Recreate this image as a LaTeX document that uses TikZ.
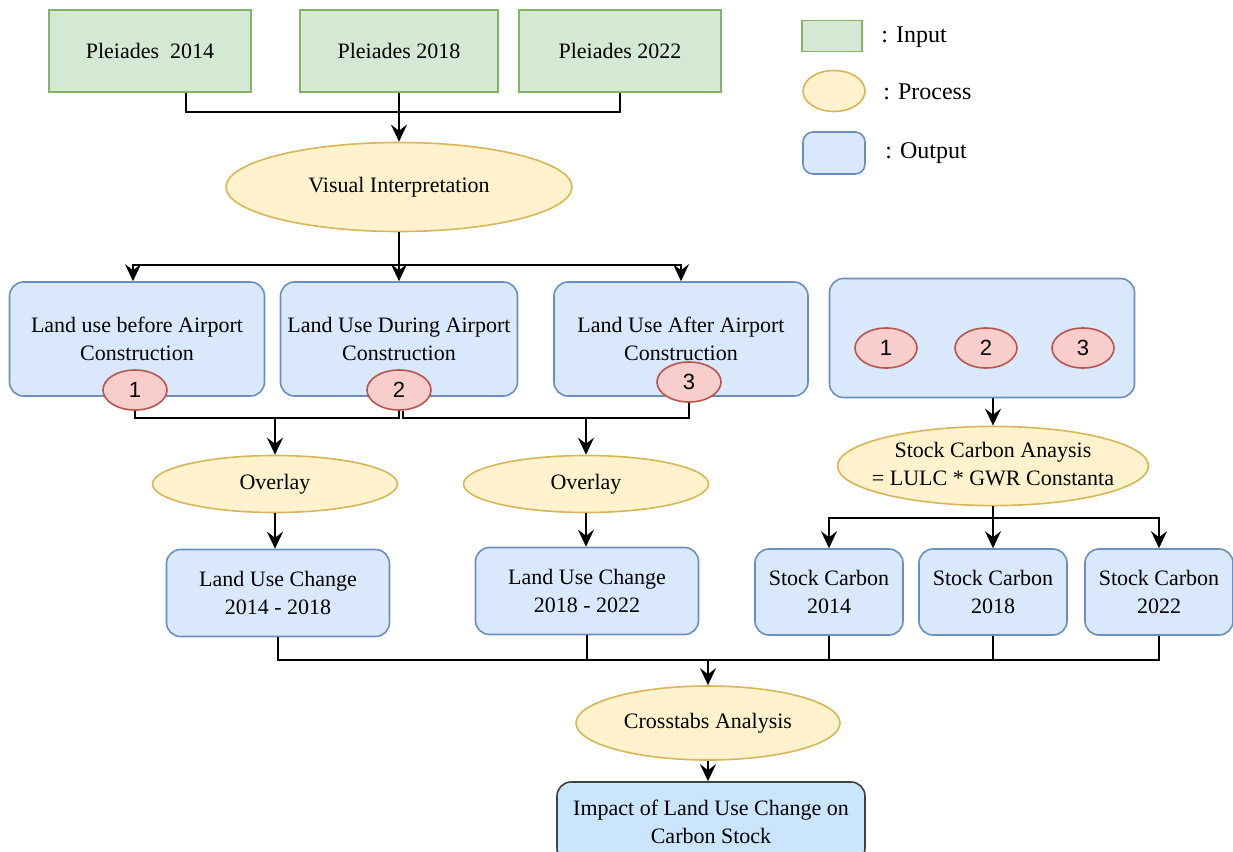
\documentclass[tikz,border=0pt]{standalone}
\usepackage{fontspec}
\setmainfont{Liberation Serif}
\newfontfamily\badgefont{Liberation Sans}
\usetikzlibrary{shapes.geometric,arrows.meta,positioning,calc}
\definecolor{ingreen}{HTML}{D5E8D4}
\definecolor{ingreenline}{HTML}{82B366}
\definecolor{procyellow}{HTML}{FFF2CC}
\definecolor{procyellowline}{HTML}{D6B656}
\definecolor{outblue}{HTML}{DAE8FC}
\definecolor{outblueline}{HTML}{6C8EBF}
\definecolor{finblue}{HTML}{CCE5FF}
\definecolor{badgered}{HTML}{F8CECC}
\definecolor{badgeredline}{HTML}{B85450}

\begin{document}
\begin{tikzpicture}[x=0.5pt,y=-0.5pt,
    every node/.style={font=\fontsize{11}{14}\selectfont, align=center, inner sep=0pt},
    inp/.style={rectangle, draw=ingreenline, fill=ingreen, line width=0.8pt, minimum width=101pt, minimum height=41pt},
    proc/.style={ellipse, draw=procyellowline, fill=procyellow, line width=0.8pt},
    outp/.style={rectangle, rounded corners=7pt, draw=outblueline, fill=outblue, line width=0.8pt},
    badge/.style={ellipse, draw=badgeredline, fill=badgered, line width=0.8pt, minimum width=32pt, minimum height=20pt, font=\badgefont\fontsize{11}{12}\selectfont},
    legtxt/.style={anchor=west, font=\fontsize{12}{14}\selectfont},
    conn/.style={line width=0.9pt, draw=black},
    arr/.style={conn, -{Stealth[length=8.5pt,width=8pt,inset=3pt]}}]
\useasboundingbox (0,0) rectangle (1233,852);

% inputs
\node[inp] (in1) at (150,51) {Pleiades\ \ 2014};
\node[inp, minimum width=99pt] (in2) at (399,51) {Pleiades 2018};
\node[inp] (in3) at (620,51) {Pleiades 2022};

% legend
\node[inp, minimum width=30pt, minimum height=15.5pt] (lin) at (832,36) {};
\node[legtxt] (lintxt) at (881,37) {: Input};
\node[proc, minimum width=31pt, minimum height=20.5pt] (lpr) at (834,91) {};
\node[legtxt] (lprtxt) at (883,92) {: Process};
\node[outp, rounded corners=5pt, minimum width=31pt, minimum height=21pt] (lout) at (834,153) {};
\node[legtxt] (louttxt) at (885,153) {: Output};

\node[proc, minimum width=173pt, minimum height=44.5pt] (vis) at (399,187) {Visual Interpretation};

% land use maps
\node[outp, minimum width=127.5pt, minimum height=57pt] (b1) at (137,339) {Land use before Airport\\Construction};
\node[outp, minimum width=118.5pt, minimum height=57pt] (b2) at (399,339) {Land Use During Airport\\Construction};
\node[outp, minimum width=127pt, minimum height=57pt] (b3) at (681,339) {Land Use After Airport\\Construction};
\node[badge] (n1) at (135,390) {1};
\node[badge] (n2) at (399,390) {2};
\node[badge] (n3) at (689,382) {3};

\node[outp, minimum width=152.5pt, minimum height=59.5pt] (b4) at (982,338) {};
\node[badge, minimum width=31pt] (m1) at (886,348) {1};
\node[badge, minimum width=31pt] (m2) at (986,348) {2};
\node[badge, minimum width=31pt] (m3) at (1083,348) {3};

% overlay
\node[proc, minimum width=122.5pt, minimum height=28.5pt] (ov1) at (275,484) {Overlay};
\node[proc, minimum width=122.5pt, minimum height=28.5pt] (ov2) at (586,484) {Overlay};
\node[outp, minimum width=111.5pt, minimum height=43.5pt] (luc1) at (278,593) {Land Use Change\\2014 - 2018};
\node[outp, minimum width=111.5pt, minimum height=43.5pt] (luc2) at (587,591) {Land Use Change\\2018 - 2022};

% carbon
\node[proc, minimum width=155.5pt, minimum height=36pt] (sca) at (993,466) {\makebox[0pt]{\begin{tabular}{@{}c@{}}Stock Carbon Anaysis\\= LULC * GWR Constanta\end{tabular}}};
\node[outp, minimum width=74pt, minimum height=43pt] (sc1) at (829,592) {Stock Carbon\\2014};
\node[outp, minimum width=74pt, minimum height=43pt] (sc2) at (993,592) {Stock Carbon\\2018};
\node[outp, minimum width=74pt, minimum height=43pt] (sc3) at (1159,592) {Stock Carbon\\2022};

\node[proc, minimum width=132pt, minimum height=37pt] (cross) at (708,723) {Crosstabs Analysis};
\node[outp, draw=black!75, fill=finblue, minimum width=154pt, minimum height=40pt] (fin) at (711,822) {Impact of Land Use Change on\\Carbon Stock};

% junctions
\coordinate (j1) at (399,112);
\coordinate (j2) at (399,265);
\coordinate (k1) at (275,418);
\coordinate (k2) at (586,418);
\coordinate (j4) at (993,518);
\coordinate (j5) at (708,660);

\draw[conn] ([xshift=18pt]in1.south) |- (j1);
\draw[conn] (in3.south) |- (j1);
\draw[arr] (in2.south) -- (vis.north);

\draw[conn] (vis.south) -- (j2);
\draw[arr] (j2) -| ([xshift=-2pt]b1.north);
\draw[arr] (j2) -- (b2.north);
\draw[arr] (j2) -| (b3.north);

\draw[conn] (n1.south) |- (k1) -| (n2.south);
\draw[conn] ([xshift=2pt]n2.south) |- (k2) -| (n3.south);
\draw[arr] (k1) -- (ov1.north);
\draw[arr] (k2) -- (ov2.north);
\draw[arr] (ov1.south) -- (ov1.south |- luc1.north);
\draw[arr] (ov2.south) -- (ov2.south |- luc2.north);

\draw[arr] (sca |- b4.south) -- (sca.north);
\draw[conn] (sca.south) -- (j4);
\draw[arr] (j4) -| (sc1.north);
\draw[arr] (j4) -- (sc2.north);
\draw[arr] (j4) -| (sc3.north);

\draw[conn] (luc1.south) |- (j5);
\draw[conn] (sc3.south) |- (j5);
\draw[conn] (luc2.south) -- (luc2.south |- j5);
\draw[conn] (sc1.south) -- (sc1.south |- j5);
\draw[conn] (sc2.south) -- (sc2.south |- j5);
\draw[arr] (j5) -- (cross.north);
\draw[arr] (cross.south) -- (cross.south |- fin.north);
\end{tikzpicture}
\end{document}
